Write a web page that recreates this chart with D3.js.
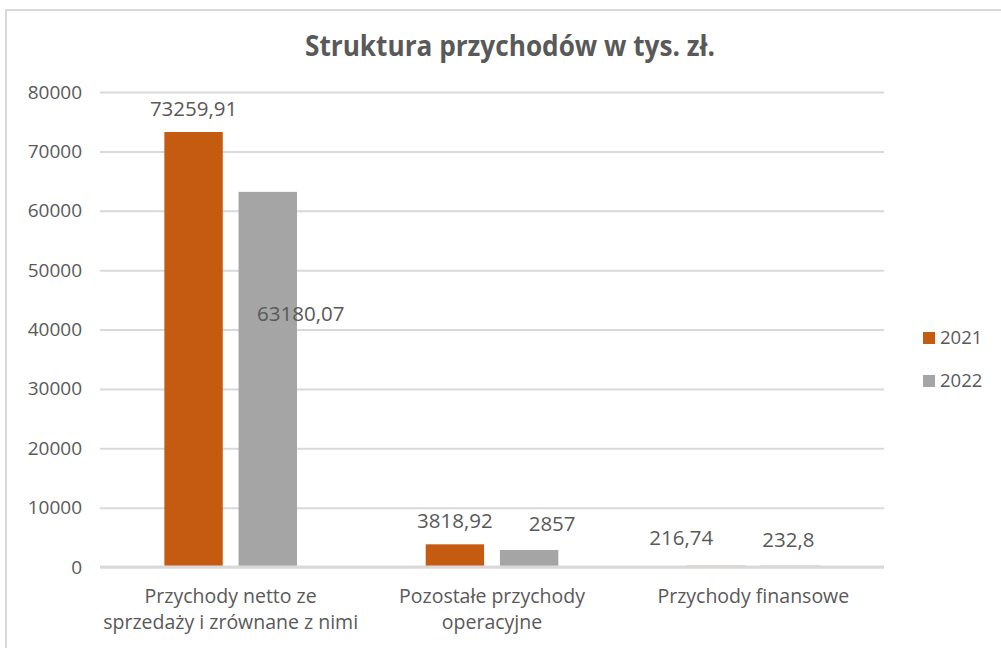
<!DOCTYPE html>
<html>
<head>
<meta charset="utf-8">
<script src="https://cdn.jsdelivr.net/npm/d3@7"></script>
<style>
	body { margin: 0; background: #ffffff; }
	text { font-family: "Open Sans", sans-serif; fill: #595959; }
</style>
</head>
<body>
<div id="chart"></div>
<script>
	/*Data*/
	var categories = [
		["Przychody netto ze", "sprzedaży i zrównane z nimi"],
		["Pozostałe przychody", "operacyjne"],
		["Przychody finansowe"]
	];
	var seriesNames = ["2021", "2022"];
	var values2021 = [73259.91, 3818.92, 216.74];
	var values2022 = [63180.07, 2857, 232.8];
	var labels2021 = ["73259,91", "3818,92", "216,74"];
	var labels2022 = ["63180,07", "2857", "232,8"];
	var yTicks = [0, 10000, 20000, 30000, 40000, 50000, 60000, 70000, 80000];

	/*Manual label nudges (dx, dy) as placed in the original*/
	var nudge2021 = [[0, 0], [0, 0], [-35, -5]];
	var nudge2022 = [[33, 145], [23, -3], [-2, -3]];

	/*SVG Size*/
	var width = 1001;
	var height = 648;

	var colors = { "2021": "#C55A11", "2022": "#A5A5A5" };

	var plot = { left: 100, right: 884, top: 92, bottom: 567 };

	var svg = d3.select("#chart").append("svg")
				.attr("width", width)
				.attr("height", height);

	/*Chart border*/
	svg.append("rect")
	   .attr("x", 6)
	   .attr("y", 10)
	   .attr("width", width + 10)
	   .attr("height", height + 10)
	   .attr("fill", "none")
	   .attr("stroke", "#D9D9D9")
	   .attr("stroke-width", 2);

	/*Title*/
	svg.append("text")
	   .attr("x", 510)
	   .attr("y", 56)
	   .attr("text-anchor", "middle")
	   .attr("font-size", 28)
	   .attr("font-weight", "bold")
	   .attr("textLength", 410)
	   .attr("lengthAdjust", "spacingAndGlyphs")
	   .text("Struktura przychodów w tys. zł.");

	/*Scales*/
	var y = d3.scaleLinear()
			  .domain([0, 80000])
			  .range([plot.bottom, plot.top]);

	var x0 = d3.scaleBand()
			   .domain(d3.range(categories.length))
			   .range([plot.left, plot.right])
			   .padding(0);

	var x1 = d3.scaleBand()
			   .domain(seriesNames)
			   .range([0, x0.bandwidth()])
			   .paddingInner(0.213)
			   .paddingOuter(0.867);

	/*Gridlines + y labels*/
	var yAxis = d3.axisLeft(y)
				  .tickValues(yTicks)
				  .tickSize(-(plot.right - plot.left))
				  .tickPadding(18)
				  .tickFormat(d3.format("d"));

	var yg = svg.append("g")
				.attr("transform", "translate(" + plot.left + ",0)")
				.call(yAxis);
	yg.select(".domain").remove();
	yg.selectAll(".tick line")
	  .attr("stroke", "#D9D9D9")
	  .attr("stroke-width", 2);
	yg.selectAll(".tick text")
	  .attr("font-size", 19)
	  .attr("fill", "#595959");

	/*Bars*/
	var rows = categories.map(function(c, i){
		return [
			{ series: "2021", i: i, v: values2021[i], label: labels2021[i], nudge: nudge2021[i] },
			{ series: "2022", i: i, v: values2022[i], label: labels2022[i], nudge: nudge2022[i] }
		];
	});

	var groups = svg.selectAll(".cat")
					.data(rows)
					.enter().append("g")
					.attr("class", "cat")
					.attr("transform", function(d, i){ return "translate(" + x0(i) + ",0)"; });

	groups.selectAll("rect")
		  .data(function(d){ return d; })
		  .enter().append("rect")
		  .attr("x", function(d){ return x1(d.series); })
		  .attr("y", function(d){ return y(d.v); })
		  .attr("width", x1.bandwidth())
		  .attr("height", function(d){ return y(0) - y(d.v); })
		  .attr("fill", function(d){ return colors[d.series]; });

	/*Zero line on top (tiny bars vanish into it, as in the original)*/
	svg.append("line")
	   .attr("x1", plot.left)
	   .attr("x2", plot.right)
	   .attr("y1", y(0))
	   .attr("y2", y(0))
	   .attr("stroke", "#D9D9D9")
	   .attr("stroke-width", 3);

	/*Data labels*/
	groups.selectAll(".lbl")
		  .data(function(d){ return d; })
		  .enter().append("text")
		  .attr("class", "lbl")
		  .attr("x", function(d){ return x1(d.series) + x1.bandwidth()/2 + d.nudge[0]; })
		  .attr("y", function(d){ return y(d.v) - 16 + d.nudge[1]; })
		  .attr("text-anchor", "middle")
		  .attr("font-size", 20.5)
		  .text(function(d){ return d.label; });

	/*Category labels*/
	var catText = svg.selectAll(".catlabel")
					 .data(categories)
					 .enter().append("text")
					 .attr("class", "catlabel")
					 .attr("x", function(d, i){ return x0(i) + x0.bandwidth()/2; })
					 .attr("y", 603)
					 .attr("text-anchor", "middle")
					 .attr("font-size", 19.5);

	catText.selectAll("tspan")
		   .data(function(d){ return d; })
		   .enter().append("tspan")
		   .attr("x", function(){ return d3.select(this.parentNode).attr("x"); })
		   .attr("dy", function(d, i){ return i === 0 ? 0 : 26; })
		   .text(function(d){ return d; });

	/*Legend*/
	var legend = svg.selectAll(".legend")
					.data(seriesNames)
					.enter().append("g")
					.attr("class", "legend")
					.attr("transform", function(d, i){ return "translate(923," + (332 + i*43) + ")"; });

	legend.append("rect")
		  .attr("width", 12)
		  .attr("height", 12)
		  .attr("fill", function(d){ return colors[d]; });

	legend.append("text")
		  .attr("x", 17)
		  .attr("y", 12)
		  .attr("font-size", 18.5)
		  .text(function(d){ return d; });
</script>
</body>
</html>
